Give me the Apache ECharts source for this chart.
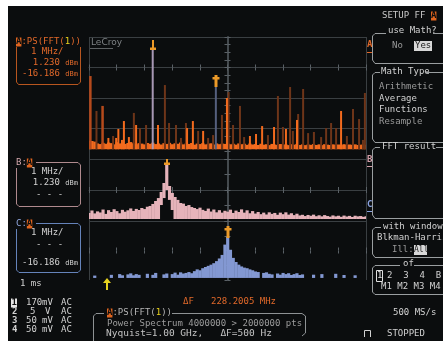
<!DOCTYPE html>
<html>
<head>
<meta charset="utf-8">
<script src="https://cdn.jsdelivr.net/npm/echarts@6/dist/echarts.min.js"></script>
<style>
  html, body { margin: 0; padding: 0; background: #ffffff; }
  #screen { position: absolute; left: 8px; top: 6px; width: 435px; height: 335px; background: #0b0d0e; }
  #chart { position: absolute; left: 0; top: 0; width: 443px; height: 341px; }
</style>
</head>
<body>
<div id="screen"></div>
<div id="chart"></div>
<script>
// ---- Frequency axis: offset from centre, 1 MHz per division ----
const FREQ_MIN = -5;
const FREQ_MAX = 5;
const SAMPLE_START = -5;     // first sample of the swept traces (MHz)
const SAMPLE_STEP = 0.1;     // sample spacing of the swept traces (MHz)

// ---- Trace A: PS(FFT(1)) spectral lines, [MHz, dBm] ----
const spikesBright = [
  [-4.30, -46.2], [-4.02, -46.2], [-3.94, -40.3], [-3.81, -47.5], [-3.74, -35.1],
  [-3.56, -45.6], [-3.30, -37.7], [-2.51, -37.7], [-1.46, -39.7], [-1.25, -35.1],
  [-0.88, -41.6], [-0.02, -20.0], [0.81, -44.9], [1.03, -43.6], [1.25, -38.4],
  [1.68, -39.0], [2.11, -40.3], [2.51, -34.4], [4.10, -28.5]
];
const spikesMid = [[-4.95, -5.6], [-4.51, -25.2]];
const spikesDim = [
  [-4.73, -28.5], [-4.13, -44.9], [-3.38, -29.8], [-3.16, -39.7], [-2.94, -37.7],
  [-2.26, -11.5], [-2.11, -36.4], [-1.86, -37.7], [-1.68, -46.2], [-1.50, -36.4],
  [-1.06, -41.6], [-0.70, -46.2], [-0.52, -44.3], [-0.20, -31.1], [0.04, -16.1],
  [0.20, -37.7], [0.45, -25.2], [0.60, -45.6], [1.46, -44.3], [1.82, -18.7],
  [2.00, -39.0], [2.26, -12.8], [2.36, -41.6], [2.55, -30.5], [2.73, -14.1],
  [2.91, -43.0], [3.12, -42.3], [3.38, -45.6], [3.56, -39.7], [3.74, -36.4],
  [3.92, -39.7], [4.31, -44.9], [4.53, -27.2], [4.75, -33.8], [4.89, -47.5],
  [4.96, -16.7]
];
// top edge of the trace A noise floor, one value per sample
const floorA = [
  -48.0, -48.2, -48.6, -49.8, -50.2, -49.4, -50.0, -49.2, -49.6, -50.4,
  -49.0, -49.8, -49.3, -50.1, -49.5, -48.9, -49.7, -50.3, -49.6, -49.9,
  -50.4, -49.5, -50.0, -49.3, -50.2, -49.8, -50.5, -49.6, -50.1, -49.4,
  -50.3, -49.7, -50.0, -49.2, -50.4, -49.8, -50.1, -49.5, -50.6, -49.9,
  -50.2, -49.6, -50.4, -50.0, -49.7, -50.5, -49.8, -50.3, -49.9, -50.1,
  -49.6, -50.4, -50.0, -50.6, -49.8, -50.3, -50.0, -50.7, -49.9, -50.5,
  -50.2, -50.8, -50.0, -50.6, -50.3, -50.9, -50.1, -50.5, -50.8, -50.2,
  -50.7, -50.4, -50.9, -50.3, -50.6, -50.1, -50.8, -50.4, -50.9, -50.5,
  -50.7, -50.2, -50.8, -50.4, -50.9, -50.3, -50.6, -50.8, -50.4, -50.7,
  -50.5, -50.9, -50.3, -50.8, -50.5, -50.7, -50.4, -50.8, -50.6, -50.3,
  -50.7
];
const FLOOR_A_BASE = -53.6;
// reference lines under the two cursors in trace A, [MHz, dBm]
const refLine1 = [[-2.70, 11.5]];
const refLine2 = [[-0.42, -12.8]];

// ---- Trace B: min/max envelope, one value per sample (dBm) ----
const traceBUpper = [
  -14.8, -13.2, -15.1, -13.8, -14.5, -12.6, -15.4, -13.0, -14.2, -12.4,
  -13.6, -15.0, -12.8, -14.0, -13.1, -11.9, -13.5, -12.2, -12.9, -11.6,
  -12.3, -10.8, -10.3, -9.0, -7.1, -5.2, -1.3, 4.5, 17.4, 2.6,
  -1.9, -4.5, -6.4, -8.4, -8.8, -10.3, -9.7, -11.0, -11.6, -12.3,
  -11.4, -12.8, -13.5, -12.0, -13.9, -12.6, -14.4, -13.0, -14.6, -13.4,
  -14.0, -12.7, -14.8, -13.3, -14.2, -12.5, -14.6, -13.1, -15.0, -13.6,
  -15.2, -14.2, -15.6, -14.6, -15.8, -14.4, -15.4, -14.8, -16.0, -14.6,
  -15.6, -14.4, -15.9, -15.0, -16.2, -15.3, -16.4, -16.0, -16.8, -16.1,
  -16.6, -15.9, -16.9, -16.3, -17.0, -16.2, -16.8, -17.2, -16.4, -17.0,
  -16.6, -17.3, -16.5, -17.1, -16.7, -17.4, -16.6, -17.0, -16.8, -17.3,
  -16.9
];
// lower edge of the envelope where it lifts off the floor (null = on the floor)
const traceBLower = [
  null, null, null, null, null, null, null, null, null, null,
  null, null, null, null, null, null, null, null, null, null,
  null, null, null, null, null, null, -9.7, -5.2, 0.0, -6.4,
  -12.9, null, null, null, null, null, null, null, null, null,
  null, null, null, null, null, null, null, null, null, null,
  null, null, null, null, null, null, null, null, null, null,
  null, null, null, null, null, null, null, null, null, null,
  null, null, null, null, null, null, null, null, null, null,
  null, null, null, null, null, null, null, null, null, null,
  null, null, null, null, null, null, null, null, null, null,
  null
];
const TRACE_B_FLOOR = -18.7;

// ---- Trace C: one value per sample (dBm), null where nothing is drawn ----
const traceC = [
  null, null, -17.0, null, null, null, null, null, -16.5, null,
  null, -16.0, -16.8, null, -16.2, -15.5, -16.8, -16.0, -16.5, null,
  null, -15.8, null, -16.5, -15.2, null, null, -16.2, -15.6, null,
  -16.0, -15.0, -16.4, -14.8, -15.6, -15.2, -14.6, -15.4, -14.0, -12.8,
  -13.4, -12.0, -11.2, -10.4, -9.6, -8.6, -7.2, -5.4, -3.0, 4.0,
  9.2, 0.5, -5.0, -7.8, -9.6, -10.8, -11.6, -12.0, -12.8, -13.4,
  -14.2, -14.6, null, -15.2, -14.8, -15.8, -16.2, null, -15.6, -16.4,
  -15.2, -16.0, -15.4, -16.6, -16.0, -15.4, -16.6, -16.2, null, null,
  null, -16.4, null, null, -16.0, null, null, null, null, -15.8,
  null, null, -16.6, null, null, null, -16.8, null, null, null,
  null
];
const TRACE_C_FLOOR = -18.6;

// ---- Cursor markers per panel: [MHz, dBm, cursor number] ----
const cursorsA = [[-2.70, 11.5, 1], [-0.42, -12.8, 2]];
const cursorsB = [[-2.20, 16.3, 1]];
const cursorsC = [[0.00, 8.7, 2]];

// ---- Readouts ----
const deltaF = '228.2005 MHz';
const traceScale = '1 MHz/';
const levelA = ['1.230', '-16.186'];
const channelRows = [
  ['1', '170', 'mV', 'AC'],
  ['2', '5', 'V', 'AC'],
  ['3', '50', 'mV', 'AC'],
  ['4', '50', 'mV', 'AC']
];

// ---- Colours ----
const GRID_COLOR = '#3a3f42';
const CENTER_COLOR = '#444a4e';
const TICK_COLOR = '#5a6166';
const ORANGE = '#f36b1e';
const ORANGE_MID = '#b54a1c';
const BROWN = '#6e3519';
const PINK = '#e6b3ba';
const BLUE = '#8398d2';
const MARKER = '#ec9a28';
const TXT = '#d2d2d2';
const DIM = '#9a9a9a';
const FRAME = '#9a9ea0';
const ORANGE_TXT = '#e2692a';
const FONT = '9px "DejaVu Sans Mono"';
const SMALL = '7px "DejaVu Sans Mono"';

const freqAt = i => SAMPLE_START + i * SAMPLE_STEP;

// panels stacked on one 8-division graticule
const panels = [
  { top: 37, height: 122, min: -60, max: 20, minor: 4, lines: [GRID_COLOR, GRID_COLOR, GRID_COLOR, GRID_COLOR, GRID_COLOR], axisLine: GRID_COLOR },
  { top: 159, height: 62, min: -20, max: 20, minor: 2, lines: [GRID_COLOR, GRID_COLOR, GRID_COLOR], axisLine: GRID_COLOR },
  { top: 221, height: 59, min: -20, max: 20, minor: 2, lines: ['transparent', 'transparent', 'transparent'], axisLine: 'transparent' }
];
const borderColors = [GRID_COLOR, 'transparent', 'transparent', 'transparent', 'transparent', 'transparent',
  'transparent', 'transparent', 'transparent', 'transparent', GRID_COLOR];

const grid = [], xAxis = [], yAxis = [];
panels.forEach((p, gi) => {
  grid.push({ left: 89, top: p.top, width: 277, height: p.height, show: false });
  [true, false].forEach(inside => {
    xAxis.push({
      type: 'value', gridIndex: gi, min: FREQ_MIN, max: FREQ_MAX, interval: 1, position: 'bottom',
      axisLine: { show: true, onZero: true, onZeroAxisIndex: 2 * gi, lineStyle: { color: inside ? p.axisLine : 'transparent' } },
      axisTick: { show: true, inside: inside, length: 3, lineStyle: { color: TICK_COLOR } },
      axisLabel: { show: false },
      splitLine: { show: inside, lineStyle: { color: borderColors, width: 1 } }
    });
    yAxis.push({
      type: 'value', gridIndex: gi, min: p.min, max: p.max, interval: 20, position: 'left',
      axisLine: { show: true, onZero: true, onZeroAxisIndex: 2 * gi, lineStyle: { color: inside ? CENTER_COLOR : 'transparent', width: 2 } },
      axisTick: { show: true, inside: inside, length: 3, lineStyle: { color: TICK_COLOR } },
      minorTick: { show: true, splitNumber: p.minor, length: 3, lineStyle: { color: TICK_COLOR } },
      axisLabel: { show: false },
      splitLine: { show: inside, lineStyle: { color: p.lines, width: 1 } }
    });
  });
});

// vertical line from a floor level up to the value
function spikeRenderer(base, widthPx) {
  return function (params, api) {
    const a = api.coord([api.value(0), api.value(1)]);
    const b = api.coord([api.value(0), base]);
    return {
      type: 'rect',
      shape: { x: a[0] - widthPx / 2, y: a[1], width: widthPx, height: b[1] - a[1] },
      style: { fill: api.visual('color') }
    };
  };
}
// one sample-wide column between a low value (or the floor) and a high value
function sampleRenderer(base) {
  return function (params, api) {
    const f = api.value(0);
    let low = api.value(2);
    if (low == null || isNaN(low)) low = base;
    const a = api.coord([f, api.value(1)]);
    const b = api.coord([f, low]);
    const w = api.size([SAMPLE_STEP, 0])[0];
    return {
      type: 'rect',
      shape: { x: a[0] - w / 2, y: a[1], width: w + 0.4, height: Math.max(b[1] - a[1], 1) },
      style: { fill: api.visual('color') }
    };
  };
}
// cursor glyph sitting on its point
function cursorRenderer(params, api) {
  const p = api.coord([api.value(0), api.value(1)]);
  const x = Math.round(p[0]), y = Math.round(p[1]);
  const parts = api.value(2) === 1
    ? [[x - 1, y - 10, 2, 10], [x - 3, y - 2.5, 6, 2.5]]
    : [[x - 1.5, y - 12, 3, 12], [x - 3.5, y - 10, 7, 2.5]];
  return {
    type: 'group',
    children: parts.map(r => ({ type: 'rect', shape: { x: r[0], y: r[1], width: r[2], height: r[3] }, style: { fill: MARKER } }))
  };
}

function custom(gi, name, data, renderItem, color, z) {
  return {
    type: 'custom', name: name, xAxisIndex: 2 * gi, yAxisIndex: 2 * gi, clip: true, silent: true,
    dimensions: ['f', 'v', 'low'], encode: { x: 0, y: 1 },
    data: data, renderItem: renderItem, itemStyle: { color: color }, z: z || 2, animation: false
  };
}

const series = [
  custom(0, 'A floor', floorA.map((v, i) => [freqAt(i), v, null]), sampleRenderer(FLOOR_A_BASE), ORANGE, 2),
  custom(0, 'A dim', spikesDim, spikeRenderer(FLOOR_A_BASE, 2), BROWN, 3),
  custom(0, 'A mid', spikesMid, spikeRenderer(FLOOR_A_BASE, 2.5), ORANGE_MID, 4),
  custom(0, 'A bright', spikesBright, spikeRenderer(FLOOR_A_BASE, 2), ORANGE, 5),
  custom(0, 'ref 1', refLine1, spikeRenderer(FLOOR_A_BASE, 2), '#a797b3', 6),
  custom(0, 'ref 2', refLine2, spikeRenderer(FLOOR_A_BASE, 2), '#55607e', 6),
  custom(0, 'A cursors', cursorsA, cursorRenderer, MARKER, 8),
  custom(1, 'B', traceBUpper.map((v, i) => [freqAt(i), v, traceBLower[i]]), sampleRenderer(TRACE_B_FLOOR), PINK, 3),
  custom(1, 'B cursors', cursorsB, cursorRenderer, MARKER, 8),
  custom(2, 'C', traceC.map((v, i) => (v == null ? null : [freqAt(i), v, null])).filter(Boolean), sampleRenderer(TRACE_C_FLOOR), BLUE, 3),
  custom(2, 'C cursors', cursorsC, cursorRenderer, MARKER, 8)
];

// ---- on-screen text and frames ----
function txt(x, y, text, fill, extra) {
  return { type: 'text', x: x, y: y, silent: true, z: 10,
    style: Object.assign({ text: text, fill: fill, font: FONT, textVerticalAlign: 'middle', textAlign: 'left' }, extra || {}) };
}
function line(points, stroke) {
  return { type: 'polyline', silent: true, z: 10, shape: { points: points }, style: { stroke: stroke, fill: null, lineWidth: 1 } };
}
const tagRich = {
  t: { fill: '#0b0d0e', backgroundColor: '#e0651f', font: 'bold 9px "DejaVu Sans Mono"', padding: [0, 0, 0, 0] },
  o: { fill: ORANGE_TXT, font: FONT },
  w: { fill: TXT, font: FONT },
  g: { fill: '#b5b5b5', font: FONT },
  y: { fill: '#e8d21e', font: FONT },
  p: { fill: '#d6a8ae', font: FONT },
  b: { fill: '#92a8e0', font: FONT },
  u: { fill: ORANGE_TXT, font: SMALL },
  uw: { fill: TXT, font: SMALL }
};

const graphic = [
  // trace A readout box
  txt(16, 42, '{t|A}{o|:PS(FFT(}{y|1}{o|))}', ORANGE_TXT, { rich: tagRich }),
  line([[16.5, 47], [16.5, 82], [18.5, 84.5], [78, 84.5], [80.5, 82], [80.5, 47]], '#b8561f'),
  txt(31, 52, traceScale, ORANGE_TXT),
  txt(78, 63, '{o|' + levelA[0] + ' }{u|dBm}', ORANGE_TXT, { rich: tagRich, textAlign: 'right' }),
  txt(78, 74, '{o|' + levelA[1] + ' }{u|dBm}', ORANGE_TXT, { rich: tagRich, textAlign: 'right' }),
  // trace B readout box
  txt(16, 163, '{p|B:}{t|A}', TXT, { rich: tagRich }),
  line([[36, 162.5], [78, 162.5], [80.5, 165], [80.5, 204], [78, 206.5], [19, 206.5], [16.5, 204], [16.5, 168]], '#b08a8e'),
  txt(31, 172, traceScale, TXT),
  txt(78, 183, '{w|' + levelA[0] + ' }{uw|dBm}', TXT, { rich: tagRich, textAlign: 'right' }),
  txt(36, 195, '- - -', TXT),
  // trace C readout box
  txt(16, 224, '{b|C:}{t|A}', TXT, { rich: tagRich }),
  line([[36, 223.5], [78, 223.5], [80.5, 226], [80.5, 270], [78, 272.5], [19, 272.5], [16.5, 270], [16.5, 229]], '#6583ba'),
  txt(31, 233, traceScale, TXT),
  txt(36, 245, '- - -', TXT),
  txt(78, 263, '{w|' + levelA[1] + ' }{uw|dBm}', TXT, { rich: tagRich, textAlign: 'right' }),
  // timebase
  txt(20, 284, '1 ms', TXT),
  // panel labels on the right edge
  txt(367, 45, 'A', ORANGE_TXT, { font: 'bold 9px "DejaVu Sans Mono"' }),
  line([[367, 52.5], [372, 52.5]], ORANGE_TXT),
  txt(367, 160, 'B', '#d6a0aa', { font: 'bold 9px "DejaVu Sans Mono"' }),
  line([[367, 166.5], [372, 166.5]], '#d6a0aa'),
  txt(367, 205, 'C', '#8aa2e0', { font: 'bold 9px "DejaVu Sans Mono"' }),
  line([[367, 211.5], [372, 211.5]], '#8aa2e0'),
  // brand mark
  txt(91, 43, 'LeCroy', '#7e8284', { font: '9px "DejaVu Sans"' }),
  line([[90, 48.5], [113, 48.5]], '#5e6264'),
  // trigger arrow
  { type: 'polygon', silent: true, z: 10, shape: { points: [[107, 278], [111, 283], [108, 283], [108, 290], [106, 290], [106, 283], [103, 283]] }, style: { fill: '#e6d21e' } },
  // cursor delta readout
  txt(183, 302, '\u0394F', ORANGE_TXT),
  txt(211, 302, deltaF, ORANGE_TXT),
  // math setup summary box
  txt(107, 313, '{t|A}{g|:PS(FFT(}{y|1}{g|))}', TXT, { rich: tagRich, font: '9.5px "DejaVu Sans Mono"' }),
  line([[104, 313.5], [96, 313.5], [93.5, 316], [93.5, 341]], '#8e9294'),
  line([[172, 313.5], [302, 313.5], [305.5, 316], [305.5, 333], [302, 336]], '#8e9294'),
  txt(107, 324, 'Power Spectrum 4000000 > 2000000 pts', '#9c9c9c', { font: '9px "DejaVu Sans Mono"' }),
  txt(106, 334, 'Nyquist=1.00 GHz,   \u0394F=500 Hz', '#c4c4c4', { font: '9.5px "DejaVu Sans Mono"' }),
  // right-hand menu
  txt(382, 16, 'SETUP FF', '#c8c8c8'),
  txt(431, 16, '{t|A}', TXT, { rich: tagRich }),
  line([[386, 33.5], [375, 33.5], [372.5, 36], [372.5, 60], [375, 63.5], [443, 63.5]], FRAME),
  line([[433, 33.5], [443, 33.5]], FRAME),
  txt(388, 31, 'use Math?', TXT),
  txt(392, 46, 'No', DIM),
  { type: 'rect', silent: true, z: 10, shape: { x: 414, y: 41, width: 18, height: 10 }, style: { fill: '#d8d8d8' } },
  txt(415, 46, 'Yes', '#1a1a1a'),
  line([[380, 72.5], [375, 72.5], [372.5, 75], [372.5, 139], [375, 142.5], [443, 142.5]], FRAME),
  line([[426, 72.5], [443, 72.5]], FRAME),
  txt(381, 72, 'Math Type', TXT),
  txt(379, 87, 'Arithmetic', DIM),
  txt(379, 99, 'Average', TXT),
  txt(379, 110, 'Functions', TXT),
  txt(379, 122, 'Resample', DIM),
  line([[380, 147.5], [375, 147.5], [372.5, 150], [372.5, 215], [375, 218.5], [443, 218.5]], FRAME),
  line([[436, 147.5], [443, 147.5]], FRAME),
  txt(382, 147, 'FFT result', TXT),
  line([[381, 227.5], [375, 227.5], [372.5, 230], [372.5, 254], [375, 257.5], [443, 257.5]], FRAME),
  txt(383, 227, 'with window', TXT),
  txt(377, 238, 'Blkman-Harris', TXT),
  txt(392, 250, 'Ill:', DIM),
  { type: 'rect', silent: true, z: 10, shape: { x: 414, y: 245, width: 13, height: 10 }, style: { fill: '#d8d8d8' } },
  txt(414, 250, 'All', '#1a1a1a', { font: '8px "DejaVu Sans Mono"' }),
  line([[400, 265.5], [375, 265.5], [372.5, 268], [372.5, 292], [375, 294.5], [443, 294.5]], FRAME),
  line([[414, 265.5], [443, 265.5]], FRAME),
  txt(403, 264, 'of', TXT),
  { type: 'rect', silent: true, z: 10, shape: { x: 376.5, y: 270.5, width: 6, height: 11 }, style: { fill: null, stroke: '#e0e0e0', lineWidth: 1 } },
  txt(377, 276, '1', '#e0e0e0'),
  txt(387, 276, '2  3  4  B  C  D', TXT),
  txt(381, 287, 'M1 M2 M3 M4', TXT),
  txt(393, 313, '500 MS/s', TXT),
  line([[364.5, 337], [364.5, 330.5], [370.5, 330.5], [370.5, 337]], TXT),
  txt(387, 334, 'STOPPED', TXT)
];
// channel rows
channelRows.forEach((r, k) => {
  const y = 303 + k * 9;
  if (k === 0) {
    graphic.push({ type: 'rect', silent: true, z: 10, shape: { x: 11, y: y - 4.5, width: 6, height: 9 }, style: { fill: '#e6e6e6' } });
    graphic.push(txt(11.5, y, r[0], '#111111', { font: 'bold 9px "DejaVu Sans Mono"' }));
  } else {
    graphic.push(txt(12, y, r[0], TXT, { font: 'bold 9px "DejaVu Sans Mono"' }));
  }
  graphic.push(txt(r[1].length === 1 ? 30 : 26, y, r[1], TXT));
  graphic.push(txt(r[2] === 'V' ? 45 : 42, y, r[2], TXT));
  graphic.push(txt(61, y, r[3], TXT));
});

const chart = echarts.init(document.getElementById('chart'), null, { renderer: 'canvas' });
chart.setOption({
  backgroundColor: 'transparent',
  animation: false,
  grid: grid,
  xAxis: xAxis,
  yAxis: yAxis,
  series: series,
  graphic: graphic
});
</script>
</body>
</html>
